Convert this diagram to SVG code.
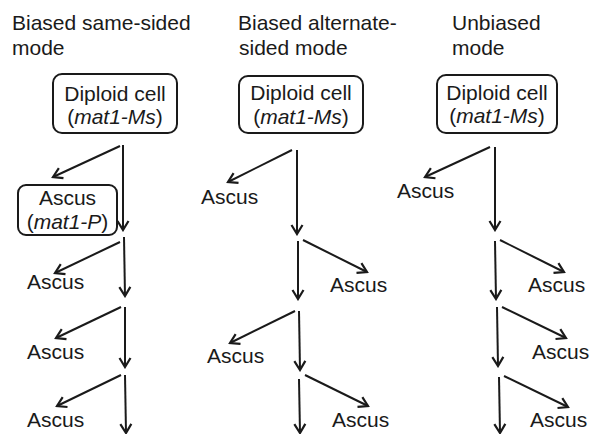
<svg xmlns="http://www.w3.org/2000/svg" width="599" height="434" viewBox="0 0 599 434">
<style>
text{font-family:"Liberation Sans",Arial,sans-serif;font-size:21px;fill:#1a1a1a}
.c{text-anchor:middle}
.box{fill:#fff;stroke:#1a1a1a;stroke-width:2}
.ln{stroke:#1a1a1a;stroke-width:2;fill:none;marker-end:url(#ah)}
</style>
<defs>
<marker id="ah" markerUnits="userSpaceOnUse" viewBox="-11 -7 13 14" refX="0" refY="0" markerWidth="13" markerHeight="14" orient="auto">
<path d="M-9,-5.5 L0,0 L-9,5.5" fill="none" stroke="#1a1a1a" stroke-width="2.2"/>
</marker>
</defs>
<g id="titles">
<text x="12" y="29.5">Biased same-sided</text>
<text x="12" y="55">mode</text>
<text x="238" y="30">Biased alternate-</text>
<text x="239" y="55">sided mode</text>
<text x="452" y="30">Unbiased</text>
<text x="452" y="55">mode</text>
</g>
<g id="connectors">
<line class="ln" x1="123" y1="145" x2="123" y2="230"/>
<line class="ln" x1="120" y1="146" x2="53" y2="177"/>
<line class="ln" x1="124" y1="237" x2="125" y2="296"/>
<line class="ln" x1="120" y1="242" x2="55" y2="273"/>
<line class="ln" x1="125" y1="307" x2="125" y2="367"/>
<line class="ln" x1="121" y1="307" x2="56" y2="338"/>
<line class="ln" x1="125" y1="375" x2="126" y2="433"/>
<line class="ln" x1="121" y1="375" x2="57" y2="406"/>
<line class="ln" x1="297" y1="150" x2="297" y2="234"/>
<line class="ln" x1="292" y1="150" x2="228" y2="182"/>
<line class="ln" x1="298" y1="241" x2="298" y2="299"/>
<line class="ln" x1="303" y1="240" x2="367" y2="272"/>
<line class="ln" x1="299" y1="311" x2="300" y2="370"/>
<line class="ln" x1="295" y1="311" x2="230" y2="343"/>
<line class="ln" x1="299" y1="379" x2="300" y2="433"/>
<line class="ln" x1="305" y1="375" x2="368" y2="406"/>
<line class="ln" x1="495" y1="147" x2="495" y2="230"/>
<line class="ln" x1="490" y1="147" x2="425" y2="177"/>
<line class="ln" x1="495" y1="241" x2="496" y2="299"/>
<line class="ln" x1="500" y1="240" x2="564" y2="272"/>
<line class="ln" x1="497" y1="307" x2="498" y2="366"/>
<line class="ln" x1="502" y1="307" x2="566" y2="338"/>
<line class="ln" x1="499" y1="377" x2="500" y2="433"/>
<line class="ln" x1="504" y1="376" x2="568" y2="407"/>
</g>
<g id="diploid1">
<rect class="box" x="53" y="74" width="124" height="59" rx="9"/>
<text class="c" x="115" y="101">Diploid cell</text>
<text class="c" x="115" y="124">(<tspan font-style="italic">mat1-Ms</tspan>)</text>
</g>
<g id="ascusP">
<rect class="box" x="18" y="185" width="99" height="50" rx="8"/>
<text class="c" x="67.5" y="205">Ascus</text>
<text class="c" x="67.5" y="229">(<tspan font-style="italic">mat1-P</tspan>)</text>
</g>
<g id="a1b"><text x="27" y="289">Ascus</text></g>
<g id="a1c"><text x="27" y="359">Ascus</text></g>
<g id="a1d"><text x="27" y="427">Ascus</text></g>
<g id="diploid2">
<rect class="box" x="239" y="76" width="124" height="57" rx="9"/>
<text class="c" x="301" y="100">Diploid cell</text>
<text class="c" x="301" y="124">(<tspan font-style="italic">mat1-Ms</tspan>)</text>
</g>
<g id="a2a"><text x="201" y="204">Ascus</text></g>
<g id="a2b"><text x="330" y="292">Ascus</text></g>
<g id="a2c"><text x="207" y="363">Ascus</text></g>
<g id="a2d"><text x="332" y="427">Ascus</text></g>
<g id="diploid3">
<rect class="box" x="437" y="75" width="120" height="58" rx="9"/>
<text class="c" x="497" y="100">Diploid cell</text>
<text class="c" x="497" y="123">(<tspan font-style="italic">mat1-Ms</tspan>)</text>
</g>
<g id="a3a"><text x="397" y="198">Ascus</text></g>
<g id="a3b"><text x="528" y="292">Ascus</text></g>
<g id="a3c"><text x="532" y="359">Ascus</text></g>
<g id="a3d"><text x="530" y="427">Ascus</text></g>
</svg>
